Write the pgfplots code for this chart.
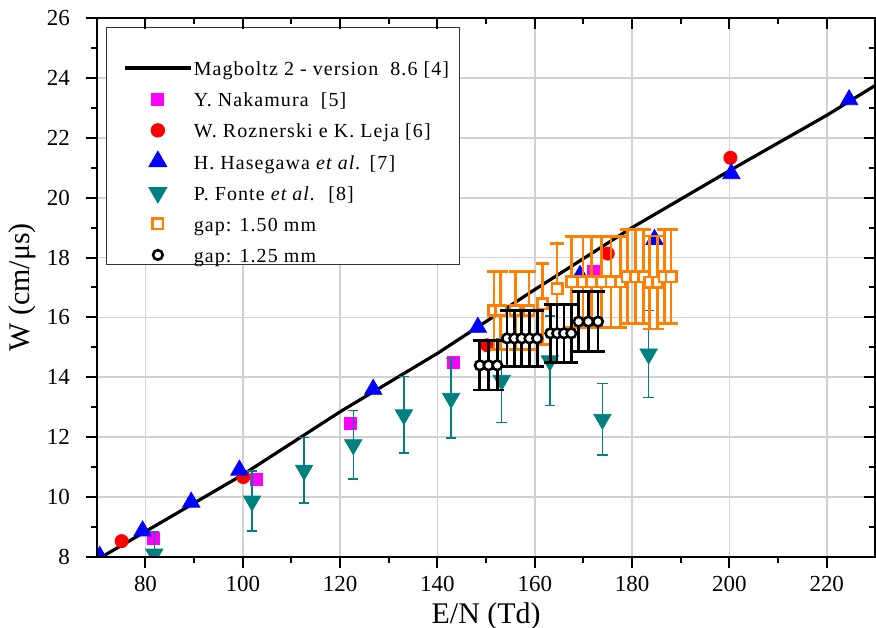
\documentclass[border=0pt]{standalone}
\usepackage{fontspec}
\setmainfont{Liberation Serif}
\newfontfamily\legfont[LetterSpace=5.5]{Liberation Serif}
\usepackage{pgfplots}
\pgfplotsset{compat=1.18}

\definecolor{mgt}{RGB}{255,0,255}
\definecolor{fonte}{RGB}{0,128,128}
\definecolor{org}{RGB}{255,128,0}

% Magboltz curve
\pgfplotstableread{
x y
71 8.0
80 8.85
90 9.8
100 10.75
120 12.85
140 14.8
160 16.93
180 19.0
200 20.9
220 22.75
230 23.75
}\magboltz

\pgfplotstableread{
x y
81.6 8.63
102.8 10.6
122.1 12.47
143.2 14.5
172.1 17.53
}\nakamura

\pgfplotstableread{
x y
75.1 8.53
100.1 10.67
150.2 15.07
175.0 18.13
200.2 21.33
}\roznerski

\pgfplotstableread{
x y
70.6 8.02
79.4 8.87
89.4 9.83
99.3 10.9
126.8 13.6
148.3 15.67
169.3 17.4
184.6 18.6
200.4 20.8
224.6 23.27
}\hasegawa

\pgfplotstableread{
x y e
81.8 8.1 0.75
101.9 9.87 1.0
112.6 10.9 1.1
122.7 11.75 1.15
133.1 12.75 1.28
142.8 13.3 1.33
153.2 13.9 1.4
163.1 14.55 1.5
173.9 12.6 1.2
183.4 14.78 1.45
}\fonte

\pgfplotstableread{
x y e
151.6 16.23 1.3
153.0 16.23 1.3
156.0 16.23 1.3
158.8 16.23 1.3
161.6 16.45 1.35
164.6 16.96 1.5
167.6 17.19 1.52
169.9 17.19 1.52
171.7 17.19 1.52
173.7 17.19 1.52
175.7 17.19 1.52
177.6 17.19 1.52
179.0 17.36 1.57
180.7 17.36 1.57
182.4 17.36 1.57
183.6 17.17 1.55
185.2 17.17 1.55
186.6 17.36 1.57
188.0 17.36 1.57
}\gapA

\pgfplotstableread{
x y e
148.7 14.4 0.83
150.5 14.4 0.83
152.3 14.4 0.83
154.3 15.3 0.93
155.8 15.3 0.93
157.3 15.3 0.93
158.9 15.3 0.93
160.5 15.3 0.93
163.2 15.47 0.97
164.6 15.47 0.97
166.0 15.47 0.97
167.5 15.47 0.97
169.0 15.86 1.0
171.0 15.86 1.0
173.0 15.86 1.0
}\gapB

\pgfplotsset{
  base/.style={
    at={(0,0)}, anchor=south west,
    width=390pt, height=270pt, scale only axis,
    xmin=70, xmax=230, ymin=8, ymax=26,
    xtick={80,100,...,220}, ytick={8,10,...,26},
    minor x tick num=1, minor y tick num=1,
    major tick length=5.5pt, minor tick length=3pt,
    every tick/.style={black, line width=1pt},
    axis line style={line width=1.2pt},
  },
  longline/.style={legend image code/.code={%
    \path (-0.42cm,0cm);
    \draw[##1] (-0.28cm,0cm) -- (0.88cm,0cm);}},
}

\begin{document}
\begin{tikzpicture}
\useasboundingbox (-48.5pt,-35.5pt) rectangle (390.3pt,279pt);
\begin{axis}[base, name=ax,
  xtick pos=left, ytick pos=left, tick align=outside,
  grid=major, major grid style={gray!35, line width=0.9pt},
  /pgf/number format/assume math mode=true,
  ticklabel style={font=\fontsize{11.5}{13}\selectfont},
  xticklabel style={yshift=-0.7pt},
  yticklabel style={xshift=-4.5pt},
  xlabel={E/N (Td)}, ylabel={W (cm/μs)},
  label style={font=\fontsize{15}{17}\selectfont, inner sep=0pt},
  xlabel style={at={([yshift=-29.5pt]rel axis cs:0.5,0)}, anchor=center},
  ylabel style={at={([xshift=-37.5pt]rel axis cs:0,0.5)}, anchor=center},
  clip marker paths=true,
  legend style={at={(0.0115,0.983)}, anchor=north west,
    draw=black!80, line width=0.6pt, fill=white,
    font=\legfont\fontsize{10}{12}\selectfont,
    row sep=0pt, inner xsep=4.5pt, inner ysep=-3.2pt,
    nodes={text height=8.4pt, text depth=0.8pt, inner ysep=3.2pt, inner xsep=0.7pt}},
  legend cell align=left,
]
\addlegendimage{empty legend}\addlegendentry{}

\addplot[black, line width=1.6pt, no marks, longline]
  table[x=x,y=y] {\magboltz};
\addlegendentry{Magboltz 2 - version\ \ 8.6 [4]}

\addplot[only marks, mark=square*, mark size=3pt, color=mgt]
  table[x=x,y=y] {\nakamura};
\addlegendentry{Y. Nakamura\ \ [5]}

\addplot[only marks, mark=*, mark size=3.3pt, color=red]
  table[x=x,y=y] {\roznerski};
\addlegendentry{W. Roznerski e K. Leja [6]}

\addplot[only marks, mark=triangle*, mark size=5pt, color=blue]
  table[x=x,y=y] {\hasegawa};
\addlegendentry{H. Hasegawa \textit{et al.} [7]}

\addplot[only marks, mark=triangle*, mark size=5pt, color=fonte,
  mark options={rotate=180},
  error bars/.cd, y dir=both, y explicit,
  error bar style={line width=0.7pt, fonte},
  error mark options={rotate=90, mark size=2.6pt, line width=0.7pt, fonte}]
  table[x=x,y=y,y error=e] {\fonte};
\addlegendentry{P. Fonte \textit{et al.}\ \ [8]}

\addplot[only marks, mark=square*, mark size=2.6pt,
  mark options={draw=org, fill=white, line width=1.3pt},
  error bars/.cd, y dir=both, y explicit,
  error bar style={line width=1.3pt, org},
  error mark options={rotate=90, mark size=3.4pt, line width=1.3pt, org}]
  table[x=x,y=y,y error=e] {\gapA};
\addlegendentry{gap: 1.50 mm}

\addplot[only marks, mark=*, mark size=2.4pt,
  mark options={draw=black, fill=white, line width=1.3pt},
  error bars/.cd, y dir=both, y explicit,
  error bar style={line width=1.3pt, black},
  error mark options={rotate=90, mark size=3.4pt, line width=1.3pt, black}]
  table[x=x,y=y,y error=e] {\gapB};
\addlegendentry{gap: 1.25 mm}
\end{axis}

% mirrored ticks on top and right, pointing inward
\begin{axis}[base,
  xtick pos=right, ytick pos=right, tick align=inside,
  xticklabels={}, yticklabels={},
  ticklabel style={overlay},
]
\end{axis}
\end{tikzpicture}
\end{document}
